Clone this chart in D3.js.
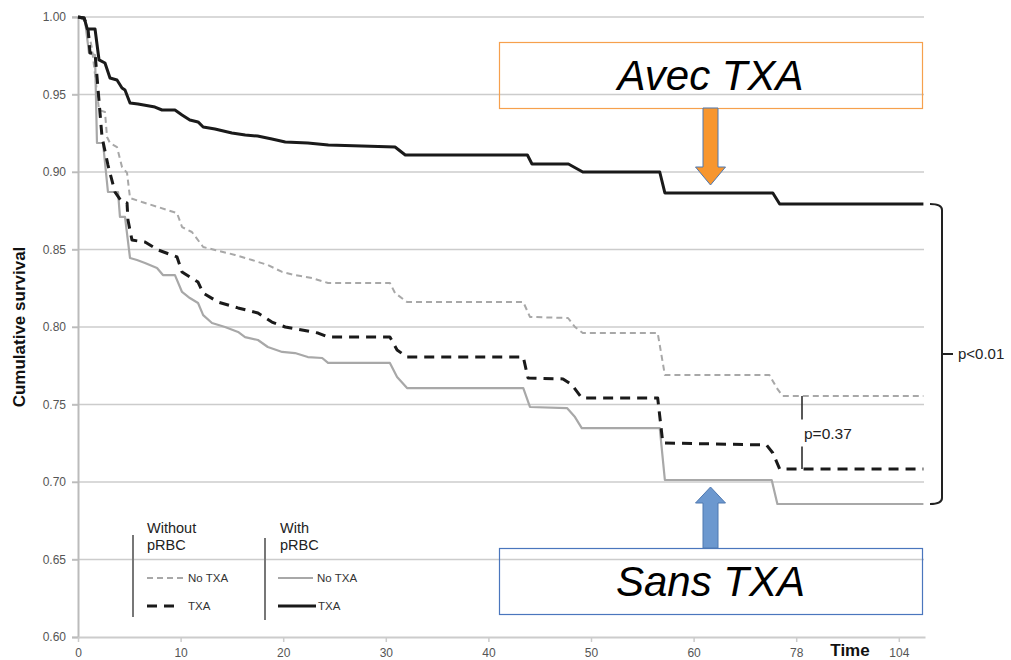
<!DOCTYPE html>
<html>
<head>
<meta charset="utf-8">
<script src="https://cdn.jsdelivr.net/npm/d3@7"></script>
<style>
  html, body { margin: 0; padding: 0; background: #fff; }
  svg { display: block; font-family: "Liberation Sans", Arial, sans-serif; }
</style>
</head>
<body>
<svg id="chart" width="1011" height="660"></svg>
<script>
// Kaplan-Meier survival estimates: [time, cumulative survival]
const withRbcTxa = [
  [0, 1.0], [0.6, 0.9994], [0.9, 0.9923], [1.66, 0.9923], [2.05, 0.9723], [2.63, 0.9703],
  [3.12, 0.9606], [3.8, 0.9594], [4.29, 0.9542], [4.58, 0.9529], [5.07, 0.9445], [5.85, 0.9439],
  [7.5, 0.9419], [8.19, 0.94], [9.45, 0.94], [10.14, 0.9368], [10.9, 0.9335], [11.7, 0.9323],
  [12.2, 0.929], [13.35, 0.9277], [15.0, 0.9252], [16.3, 0.9239], [17.5, 0.9232], [18.9, 0.9213],
  [20.2, 0.9194], [22.4, 0.9187], [24.4, 0.9174], [30.9, 0.9161], [31.9, 0.911], [43.8, 0.911],
  [44.25, 0.9052], [47.8, 0.9052], [49.2, 0.90], [56.7, 0.90], [57.2, 0.8865], [73.9, 0.8865],
  [75.1, 0.8794], [110.2, 0.8794]
];
const withRbcNoTxa = [
  [0, 1.0], [0.68, 0.998], [1.07, 0.9768], [1.66, 0.9755], [1.85, 0.9187], [2.44, 0.9187],
  [2.92, 0.8871], [3.9, 0.8871], [4.09, 0.871], [4.58, 0.871], [5.07, 0.8445], [5.75, 0.8432],
  [6.53, 0.8413], [7.7, 0.8381], [8.28, 0.8335], [9.45, 0.8335], [10.14, 0.8226], [10.9, 0.8187],
  [11.7, 0.8155], [12.2, 0.8077], [13.06, 0.8026], [14.33, 0.80], [15.6, 0.7968], [16.28, 0.7935],
  [17.54, 0.7916], [18.5, 0.7871], [19.9, 0.7839], [21.15, 0.7832], [22.4, 0.7806], [23.8, 0.78],
  [24.37, 0.7768], [30.4, 0.7768], [31.1, 0.7677], [32.07, 0.7606], [43.4, 0.7606], [44.05, 0.7484],
  [47.66, 0.7477], [48.44, 0.7419], [49.1, 0.7348], [56.7, 0.7348], [57.2, 0.7013], [73.7, 0.7013],
  [74.7, 0.6858], [110.2, 0.6858]
];
const noRbcTxa = [
  [0, 1.0], [0.58, 0.9994], [0.97, 0.9929], [1.17, 0.9768], [1.66, 0.9768], [2.34, 0.9226],
  [2.92, 0.9045], [3.6, 0.8871], [3.8, 0.8852], [4.29, 0.8806], [4.78, 0.88], [4.87, 0.869],
  [5.26, 0.8561], [6.53, 0.8548], [7.8, 0.8497], [9.65, 0.8452], [10.14, 0.8355], [11.7, 0.829],
  [12.2, 0.8219], [13.65, 0.8161], [15.6, 0.8123], [17.54, 0.809], [18.9, 0.8032], [20.2, 0.80],
  [21.83, 0.7981], [23.4, 0.7961], [24.37, 0.7935], [30.4, 0.7935], [31.1, 0.7852], [32.07, 0.7806],
  [43.4, 0.7806], [43.86, 0.7671], [47.27, 0.7665], [48.15, 0.7626], [49.1, 0.7542], [56.5, 0.7542],
  [57.0, 0.7252], [72.8, 0.7239], [73.9, 0.7187], [75.1, 0.7084], [110.2, 0.7084]
];
const noRbcNoTxa = [
  [0, 1.0], [0.68, 0.998], [0.97, 0.9916], [1.36, 0.98], [2.05, 0.94], [2.63, 0.9387],
  [2.83, 0.9226], [3.12, 0.9187], [3.8, 0.9161], [4.29, 0.9032], [4.78, 0.8994], [5.07, 0.8832],
  [6.24, 0.8806], [7.8, 0.8774], [9.65, 0.8735], [10.14, 0.8645], [11.1, 0.8613], [12.2, 0.8516],
  [13.35, 0.8497], [15.3, 0.8465], [16.96, 0.8432], [18.5, 0.84], [19.9, 0.8355], [21.15, 0.8335],
  [22.8, 0.8316], [24.37, 0.8284], [30.4, 0.8284], [30.9, 0.8219], [32.07, 0.8161], [43.4, 0.8161],
  [44.05, 0.8065], [47.76, 0.8058], [48.44, 0.80], [49.2, 0.7961], [56.5, 0.7961], [57.2, 0.769],
  [73.3, 0.769], [74.6, 0.7606], [75.6, 0.7555], [110.2, 0.7555]
];

// Axis ticks (time axis is broken after 60: ticks drawn at even spacing)
const timeTicks = [0, 10, 20, 30, 40, 50, 60, 78, 104];
const survivalTicks = [0.60, 0.65, 0.70, 0.75, 0.80, 0.85, 0.90, 0.95, 1.00];
const timeMax = 110.6;

const pAll = "p<0.01";
const pNoRbc = "p=0.37";
const legendGroups = ["Without pRBC", "With pRBC"];
const legendItems = ["No TXA", "TXA"];
const labelWith = "Avec TXA";
const labelWithout = "Sans TXA";

const svg = d3.select("#chart");

const plotLeft = 78, tickStep = 102.6, plotTop = 17, plotBottom = 637;
const x = d3.scaleLinear()
  .domain(timeTicks.concat([timeMax]))
  .range(timeTicks.map((d, i) => plotLeft + i * tickStep).concat([925]));
const y = d3.scaleLinear().domain([0.60, 1.00]).range([plotBottom, plotTop]);

// Horizontal gridlines
svg.append("g").selectAll("line")
  .data(survivalTicks.filter(d => d > 0.6))
  .join("line")
  .attr("x1", 72).attr("x2", 924)
  .attr("y1", d => y(d)).attr("y2", d => y(d))
  .attr("stroke", "#cccccc").attr("stroke-width", 1.6);

// Y axis
const yAxis = svg.append("g").attr("transform", `translate(${plotLeft},0)`)
  .call(d3.axisLeft(y).tickValues(survivalTicks).tickFormat(d3.format(".2f")).tickSize(6));
yAxis.select(".domain").attr("stroke", "#bbbbbb").attr("stroke-width", 2);
yAxis.selectAll(".tick line").attr("stroke", "#bbbbbb").attr("stroke-width", 1.5);
yAxis.selectAll(".tick text").attr("x", -12)
  .attr("fill", "#555").style("font-size", "12px").style("font-family", "Liberation Sans, Arial, sans-serif");

// X axis
const xAxis = svg.append("g").attr("transform", `translate(0,${plotBottom})`)
  .call(d3.axisBottom(x).tickValues(timeTicks).tickFormat(d3.format("d")).tickSize(5).tickSizeOuter(0));
xAxis.select(".domain").attr("stroke", "#cccccc").attr("stroke-width", 2);
xAxis.selectAll(".tick line").attr("stroke", "#cccccc").attr("stroke-width", 1.5);
xAxis.selectAll(".tick text").attr("y", 11)
  .attr("fill", "#555").style("font-size", "12px").style("font-family", "Liberation Sans, Arial, sans-serif");

// Axis titles
svg.append("text")
  .attr("transform", `translate(25,${(plotTop + plotBottom) / 2}) rotate(-90)`)
  .attr("text-anchor", "middle")
  .style("font-size", "17px").style("font-weight", "bold").attr("fill", "#111")
  .text("Cumulative survival");
svg.append("text")
  .attr("x", 850).attr("y", 656)
  .attr("text-anchor", "middle")
  .style("font-size", "17px").style("font-weight", "bold").attr("fill", "#111")
  .text("Time");

// Survival curves
const line = d3.line().x(d => x(d[0])).y(d => y(d[1]));
const styles = [
  { data: noRbcNoTxa, stroke: "#a8a8a8", width: 2, dash: "6,4" },
  { data: withRbcNoTxa, stroke: "#a8a8a8", width: 2.2, dash: null },
  { data: noRbcTxa, stroke: "#1a1a1a", width: 3, dash: "10,7" },
  { data: withRbcTxa, stroke: "#1a1a1a", width: 3, dash: null }
];
svg.append("g").selectAll("path")
  .data(styles)
  .join("path")
  .attr("d", d => line(d.data))
  .attr("fill", "none")
  .attr("stroke", d => d.stroke)
  .attr("stroke-width", d => d.width)
  .attr("stroke-dasharray", d => d.dash)
  .attr("stroke-linejoin", "round");

// Bracket comparing the two pRBC curves at the end of follow-up
const endTop = y(withRbcTxa[withRbcTxa.length - 1][1]);
const endBot = y(withRbcNoTxa[withRbcNoTxa.length - 1][1]);
const bx = 942, bmid = (endTop + endBot) / 2;
svg.append("path")
  .attr("d", `M930,${endTop} Q${bx},${endTop} ${bx},${endTop + 6} L${bx},${endBot - 6} Q${bx},${endBot} 930,${endBot}
              M${bx},${bmid} L953,${bmid}`)
  .attr("fill", "none").attr("stroke", "#222").attr("stroke-width", 2);
svg.append("text")
  .attr("x", 958).attr("y", bmid + 5)
  .style("font-size", "15px").attr("fill", "#222").text(pAll);

// Comparison between the two curves without pRBC
const gTop = y(noRbcNoTxa[noRbcNoTxa.length - 1][1]);
const gBot = y(noRbcTxa[noRbcTxa.length - 1][1]);
const px = 802, pmid = (gTop + gBot) / 2;
svg.append("path")
  .attr("d", `M${px},${gTop} L${px},${pmid - 13} M${px},${pmid + 14} L${px},${gBot}`)
  .attr("stroke", "#222").attr("stroke-width", 1.5);
svg.append("text")
  .attr("x", px + 2).attr("y", pmid + 7)
  .style("font-size", "15.5px").attr("fill", "#222").text(pNoRbc);

// Legend
const legend = svg.append("g");
const groupX = [147, 280];
const barX = [133, 265];
const swatch = [[0, 2], [1, 3]];           // style index per group / item
const swatchEnd = [[187, 180], [313, 316]];
const itemX = [[188, 188], [317, 318]];
legendGroups.forEach((g, gi) => {
  const [w1, w2] = g.split(" ");
  legend.append("line")
    .attr("x1", barX[gi]).attr("x2", barX[gi])
    .attr("y1", 535 + gi * 3).attr("y2", 617 + gi * 3)
    .attr("stroke", "#777").attr("stroke-width", 2);
  legend.append("text").attr("x", groupX[gi]).attr("y", 533)
    .style("font-size", "14.5px").attr("fill", "#222").text(w1);
  legend.append("text").attr("x", groupX[gi]).attr("y", 550)
    .style("font-size", "14.5px").attr("fill", "#222").text(w2);
  legendItems.forEach((item, ii) => {
    const s = styles[swatch[gi][ii]];
    const ly = 578 + ii * 28;
    legend.append("line")
      .attr("x1", gi === 0 ? 147 : 278).attr("x2", swatchEnd[gi][ii])
      .attr("y1", ly).attr("y2", ly)
      .attr("stroke", s.stroke).attr("stroke-width", s.width)
      .attr("stroke-dasharray", s.dash);
    legend.append("text")
      .attr("x", itemX[gi][ii]).attr("y", ly + 4)
      .style("font-size", "11.5px").attr("fill", "#333")
      .text(item);
  });
});

// Callout boxes with arrows
const callouts = [
  { text: labelWith, y0: 42, y1: 108, stroke: "#f6a04d", fill: "#f7962f",
    arrow: { base: 108, headBase: 167, tip: 185 } },
  { text: labelWithout, y0: 548, y1: 614, stroke: "#4a76bd", fill: "#6c98cf",
    arrow: { base: 548, headBase: 503, tip: 487 } }
];
const cx = 710.5;
callouts.forEach(c => {
  svg.append("rect")
    .attr("x", 499.5).attr("y", c.y0 + 0.5)
    .attr("width", 423).attr("height", c.y1 - c.y0)
    .attr("fill", "none").attr("stroke", c.stroke).attr("stroke-width", 1.2);
  svg.append("text")
    .attr("x", cx).attr("y", c.y1 - 18)
    .attr("text-anchor", "middle")
    .style("font-size", "42px").style("font-style", "italic").attr("fill", "#000")
    .text(c.text);
  const a = c.arrow;
  svg.append("path")
    .attr("d", `M${cx - 7.5},${a.base} L${cx - 7.5},${a.headBase} L${cx - 15},${a.headBase}
                L${cx},${a.tip} L${cx + 15},${a.headBase} L${cx + 7.5},${a.headBase} L${cx + 7.5},${a.base} Z`)
    .attr("fill", c.fill).attr("stroke", "#4f78b0").attr("stroke-width", 1);
});
</script>
</body>
</html>
